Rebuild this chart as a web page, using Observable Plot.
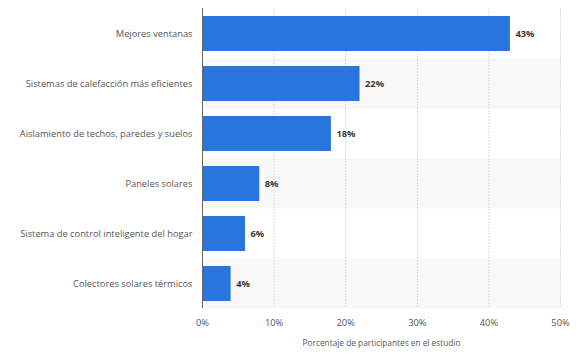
<!DOCTYPE html>
<html>
<head>
<meta charset="utf-8">
<script src="https://cdn.jsdelivr.net/npm/d3@7"></script>
<script src="https://cdn.jsdelivr.net/npm/@observablehq/plot@0.6"></script>
<style>
  html, body { margin: 0; padding: 0; background: #fff; }
  #chart svg { display: block; }
</style>
</head>
<body>
<div id="chart"></div>
<script>
const categories = [
  "Mejores ventanas",
  "Sistemas de calefacción más eficientes",
  "Aislamiento de techos, paredes y suelos",
  "Paneles solares",
  "Sistema de control inteligente del hogar",
  "Colectores solares térmicos"
];
const values = [43, 22, 18, 8, 6, 4];
const xTicks = [0, 10, 20, 30, 40, 50];
const xLabel = "Porcentaje de participantes en el estudio";

const data = categories.map((c, i) => ({ category: c, value: values[i], index: i }));
const stripes = data.filter(d => d.index % 2 === 1);

const font = "'Open Sans', 'DejaVu Sans', sans-serif";

const chart = Plot.plot({
  width: 579,
  height: 357,
  marginLeft: 202,
  marginRight: 19,
  marginTop: 8,
  marginBottom: 49,
  style: { fontFamily: font, fontSize: "9px", color: "#555", background: "#fff" },
  x: { domain: [0, 50], ticks: xTicks, tickFormat: d => d + "%", label: null },
  y: { domain: categories, paddingInner: 0.3, paddingOuter: 0.15, label: null },
  marks: [
    Plot.barX(stripes, { y: "category", x1: 0, x2: 50, fill: "#f8f8f8", insetTop: -7.5, insetBottom: -7.5 }),
    Plot.ruleX(xTicks.filter(d => d > 0), { stroke: "#dcdcdc", strokeWidth: 1, strokeDasharray: "2,1" }),
    Plot.barX(data, { y: "category", x: "value", fill: "#2876dd" }),
    Plot.ruleX([0], { stroke: "#666", strokeWidth: 1 }),
    Plot.text(data, { y: "category", x: "value", text: d => d.value + "%", textAnchor: "start", dx: 5, fill: "#3a3a3a", fontWeight: "bold", fontSize: 9.3 }),
    Plot.axisY({ tickSize: 0, tickPadding: 10, fontSize: 9.3, fill: "#555", label: null }),
    Plot.axisX({ ticks: xTicks, tickFormat: d => d + "%", tickSize: 0, tickPadding: 11, fontSize: 9.3, fill: "#555", label: null }),
    Plot.text([xLabel], { frameAnchor: "bottom", dy: 37, fontSize: 8.3, fill: "#555" })
  ]
});
document.getElementById("chart").appendChild(chart);
</script>
</body>
</html>
